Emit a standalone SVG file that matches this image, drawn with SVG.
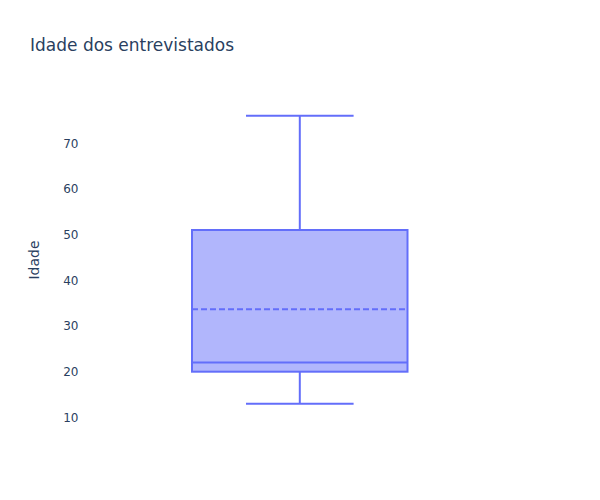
<svg xmlns="http://www.w3.org/2000/svg" width="600" height="500" viewBox="0 0 600 500">
<style>
.t{font-family:"DejaVu Sans","Liberation Sans",sans-serif;fill:#2a3f5f}
.tick{font-size:12px;text-anchor:end}
.box{stroke:#636efa;stroke-width:2;fill:none}
</style>
<rect width="600" height="500" fill="#ffffff"/>
<text class="t" x="30" y="50.5" font-size="17">Idade dos entrevistados</text>
<g id="yaxis">
<text class="t tick" x="78.5" y="147.5">70</text>
<text class="t tick" x="78.5" y="193.2">60</text>
<text class="t tick" x="78.5" y="238.9">50</text>
<text class="t tick" x="78.5" y="284.6">40</text>
<text class="t tick" x="78.5" y="330.3">30</text>
<text class="t tick" x="78.5" y="376">20</text>
<text class="t tick" x="78.5" y="421.7">10</text>
<text class="t" x="0" y="0" font-size="14" text-anchor="middle" transform="translate(38.5,260) rotate(-90)">Idade</text>
</g>
<g id="boxplot">
<rect x="192" y="230" width="215.5" height="141.7" fill="rgba(99,110,250,0.5)" stroke="#636efa" stroke-width="2"/>
<line class="box" x1="192" y1="362.6" x2="407.5" y2="362.6"/>
<line class="box" x1="192" y1="309.3" x2="407.5" y2="309.3" stroke-dasharray="6,3"/>
<line class="box" x1="299.8" y1="230" x2="299.8" y2="115.8"/>
<line class="box" x1="246" y1="115.8" x2="353.6" y2="115.8"/>
<line class="box" x1="299.8" y1="371.7" x2="299.8" y2="403.7"/>
<line class="box" x1="246" y1="403.7" x2="353.6" y2="403.7"/>
</g>
</svg>
